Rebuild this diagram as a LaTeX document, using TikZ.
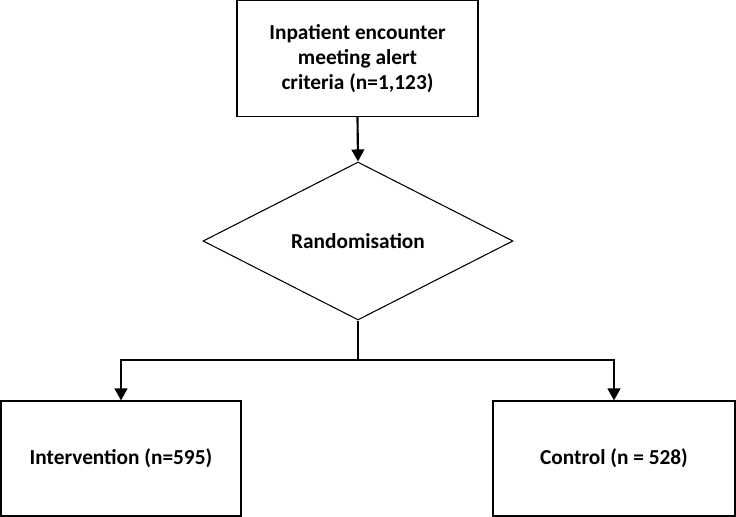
\documentclass[tikz,border=0pt]{standalone}
\usepackage{fontspec}
\setmainfont{Carlito}
\usetikzlibrary{arrows.meta,shapes.geometric}
\begin{document}
\begin{tikzpicture}[x=0.75pt,y=-0.75pt,
  every node/.style={font=\fontsize{16pt}{19pt}\selectfont\bfseries},
  boxnode/.style={draw=black,line width=0.8pt,rectangle,align=center,inner sep=0pt},
  dianode/.style={draw=black,line width=0.8pt,diamond,inner sep=0pt,minimum width=232.5pt,minimum height=118.5pt,aspect=1.96},
  conn/.style={line width=1.6pt,draw=black},
  arr/.style={conn,-{Triangle[length=9pt,width=9.5pt]}}]
\useasboundingbox (0,0) rectangle (736,517);
\node[boxnode,minimum width=180.75pt,minimum height=87pt] (top) at (357.5,58.5) {Inpatient encounter\\meeting alert\\criteria (n=1,123)};
\node[dianode] (dia) at (358,241) {Randomisation};
\node[boxnode,minimum width=180pt,minimum height=86.25pt] (left) at (121,458.5) {Intervention (n=595)};
\node[boxnode,minimum width=181.5pt,minimum height=86.25pt] (right) at (614,458.5) {Control (n = 528)};
\coordinate (split) at (358,360);
\draw[arr] (top.south) -- (dia.north);
\draw[conn] (dia.south) -- (split);
\draw[arr] (split) -| (left.north);
\draw[arr] (split) -| (right.north);
\end{tikzpicture}
\end{document}
